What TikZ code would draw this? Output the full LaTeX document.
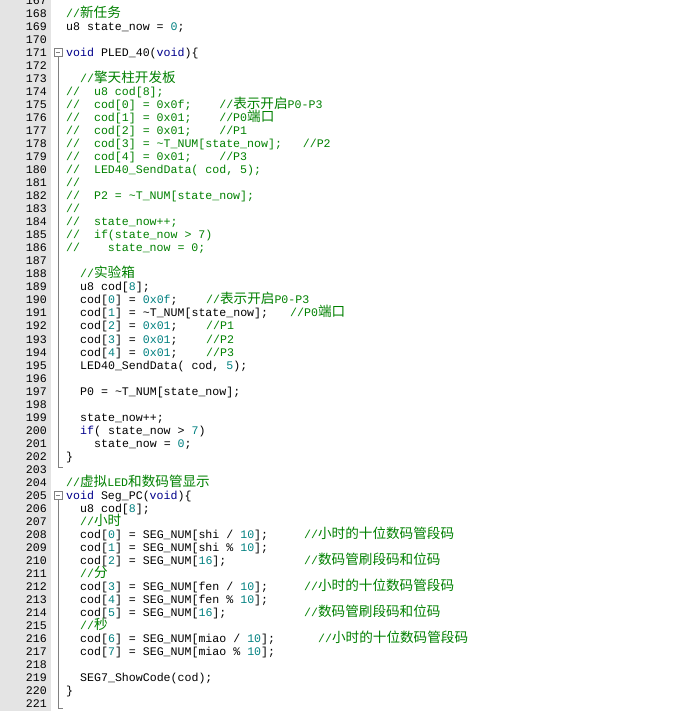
\documentclass[tikz,border=0pt]{standalone}
\usepackage{fontspec}
\newfontfamily\codefont{Liberation Mono}
\newfontfamily\cjk{Noto Sans CJK SC}
\definecolor{cmtgreen}{HTML}{008000}
\definecolor{kwblue}{HTML}{00008B}
\definecolor{numteal}{HTML}{008080}
\definecolor{guttergray}{HTML}{E4E4E4}
\newcommand\kw[1]{\textcolor{kwblue}{#1}}
\newcommand\nm[1]{\textcolor{numteal}{#1}}
\newcommand\zh[1]{{\cjk\fontsize{13.6}{14}\selectfont #1}}
\newcommand\tl{\textasciitilde}
% one line of code: number, column, text
\newcommand\codeline[3]{\node[codetext] (l#1) at ({66+7*#2},{-17.5-(#1-168)*13.02}) {#3};}
\newcommand\cmt[3]{\node[codetext,text=cmtgreen] (c#1) at ({66+7*#2},{-17.5-(#1-168)*13.02}) {#3};}
\tikzset{
  codetext/.style={anchor=base west, inner sep=0pt, font=\codefont\fontsize{11.6}{13}\selectfont},
  linenum/.style={anchor=base east, inner sep=0pt, font=\codefont\fontsize{11.6}{13}\selectfont},
  foldbox/.style={draw=gray, fill=white, minimum size=8pt, inner sep=0pt}
}
\begin{document}
\begin{tikzpicture}[x=1pt,y=1pt]
  \useasboundingbox (0,0) rectangle (693,-711);
  \clip (0,0) rectangle (693,-711);
  \fill[guttergray] (0,0) rectangle (51,-711);

  % line numbers
  \foreach \n in {167,...,221}
    \node[linenum] (n\n) at (47,{-17.5-(\n-168)*13.02}) {\n};

  % fold markers
  \node[foldbox] (f171) at (58,-52.5) {};
  \node[foldbox] (f205) at (58,-495) {};
  \coordinate (e171) at (58,-467);
  \coordinate (e205) at (58,-708);
  \draw[gray] (f171.south) -- (e171) -- ++(5,0);
  \draw[gray] (f205.south) -- (e205) -- ++(5,0);
  \draw[gray] (f171.west) ++(2,0) -- ++(4,0);
  \draw[gray] (f205.west) ++(2,0) -- ++(4,0);

  \cmt{168}{0}{//\zh{新任务}}
  \codeline{169}{0}{u8 state\_now = \nm{0};}
  \codeline{171}{0}{\kw{void} PLED\_40(\kw{void})\{}
  \cmt{173}{2}{//\zh{擎天柱开发板}}
  \cmt{174}{0}{//~~u8 cod[8];}
  \cmt{175}{0}{//~~cod[0] = 0x0f;~~~~//\zh{表示开启}P0-P3}
  \cmt{176}{0}{//~~cod[1] = 0x01;~~~~//P0\zh{端口}}
  \cmt{177}{0}{//~~cod[2] = 0x01;~~~~//P1}
  \cmt{178}{0}{//~~cod[3] = \tl T\_NUM[state\_now];~~~//P2}
  \cmt{179}{0}{//~~cod[4] = 0x01;~~~~//P3}
  \cmt{180}{0}{//~~LED40\_SendData( cod, 5);}
  \cmt{181}{0}{//}
  \cmt{182}{0}{//~~P2 = \tl T\_NUM[state\_now];}
  \cmt{183}{0}{//}
  \cmt{184}{0}{//~~state\_now++;}
  \cmt{185}{0}{//~~if(state\_now > 7)}
  \cmt{186}{0}{//~~~~state\_now = 0;}

  \cmt{188}{2}{//\zh{实验箱}}
  \codeline{189}{2}{u8 cod[\nm{8}];}
  \codeline{190}{2}{cod[\nm{0}] = \nm{0x0f};}
  \cmt{190}{20}{//\zh{表示开启}P0-P3}
  \codeline{191}{2}{cod[\nm{1}] = \tl T\_NUM[state\_now];}
  \cmt{191}{32}{//P0\zh{端口}}
  \codeline{192}{2}{cod[\nm{2}] = \nm{0x01};}
  \cmt{192}{20}{//P1}
  \codeline{193}{2}{cod[\nm{3}] = \nm{0x01};}
  \cmt{193}{20}{//P2}
  \codeline{194}{2}{cod[\nm{4}] = \nm{0x01};}
  \cmt{194}{20}{//P3}
  \codeline{195}{2}{LED40\_SendData( cod, \nm{5});}
  \codeline{197}{2}{P0 = \tl T\_NUM[state\_now];}
  \codeline{199}{2}{state\_now++;}
  \codeline{200}{2}{\kw{if}( state\_now > \nm{7})}
  \codeline{201}{4}{state\_now = \nm{0};}
  \codeline{202}{0}{\}}

  \cmt{204}{0}{//\zh{虚拟}LED\zh{和数码管显示}}
  \codeline{205}{0}{\kw{void} Seg\_PC(\kw{void})\{}
  \codeline{206}{2}{u8 cod[\nm{8}];}
  \cmt{207}{2}{//\zh{小时}}
  \codeline{208}{2}{cod[\nm{0}] = SEG\_NUM[shi / \nm{10}];}
  \cmt{208}{34}{//\zh{小时的十位数码管段码}}
  \codeline{209}{2}{cod[\nm{1}] = SEG\_NUM[shi \% \nm{10}];}
  \codeline{210}{2}{cod[\nm{2}] = SEG\_NUM[\nm{16}];}
  \cmt{210}{34}{//\zh{数码管刷段码和位码}}
  \cmt{211}{2}{//\zh{分}}
  \codeline{212}{2}{cod[\nm{3}] = SEG\_NUM[fen / \nm{10}];}
  \cmt{212}{34}{//\zh{小时的十位数码管段码}}
  \codeline{213}{2}{cod[\nm{4}] = SEG\_NUM[fen \% \nm{10}];}
  \codeline{214}{2}{cod[\nm{5}] = SEG\_NUM[\nm{16}];}
  \cmt{214}{34}{//\zh{数码管刷段码和位码}}
  \cmt{215}{2}{//\zh{秒}}
  \codeline{216}{2}{cod[\nm{6}] = SEG\_NUM[miao / \nm{10}];}
  \cmt{216}{36}{//\zh{小时的十位数码管段码}}
  \codeline{217}{2}{cod[\nm{7}] = SEG\_NUM[miao \% \nm{10}];}
  \codeline{219}{2}{SEG7\_ShowCode(cod);}
  \codeline{220}{0}{\}}
\end{tikzpicture}
\end{document}
